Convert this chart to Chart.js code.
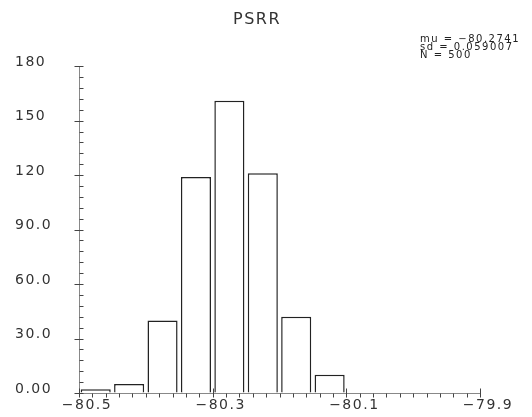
<!DOCTYPE html>
<html><head><meta charset="utf-8">
<script src="https://cdn.jsdelivr.net/npm/chart.js@4.4.0/dist/chart.umd.min.js"></script>
<style>html,body{margin:0;padding:0;background:#fff}#wrap{width:532px;height:417px}</style>
</head><body><div id="wrap"><canvas id="c"></canvas></div>
<script>
const chartTitle = 'PSRR';
const binCenters = [-80.475, -80.425, -80.375, -80.325, -80.275, -80.225, -80.175, -80.125];
const counts = [2, 5, 40, 119, 161, 121, 42, 10];
const xTickValues = [-80.5, -80.3, -80.1, -79.9];
const xTickLabels = ['−80.5', '−80.3', '−80.1', '−79.9'];
const yTickValues = [0, 30, 60, 90, 120, 150, 180];
const yTickLabels = ['0.00', '30.0', '60.0', '90.0', '120', '150', '180'];
const statsLines = ['mu = −80.2741', 'sd = 0.059007', 'N = 500'];
const xMinorStep = 0.02;
const yMinorStep = 6;

const textColor = '#333';
const tickColor = '#444';

const spacingPlugin = {
  id: 'spacing',
  beforeDraw(chart) { chart.ctx.letterSpacing = '1.5px'; }
};

const axisTicksPlugin = {
  id: 'axisTicks',
  afterDraw(chart) {
    const ctx = chart.ctx;
    const xs = chart.scales.x, ys = chart.scales.y;
    const ax = Math.round(chart.chartArea.left) + 0.5;
    const ay = Math.round(chart.chartArea.bottom) + 0.5;
    ctx.save();
    ctx.strokeStyle = tickColor;
    ctx.lineWidth = 1;
    ctx.beginPath();
    for (let v = ys.min; v <= ys.max + 1e-9; v += yMinorStep) {
      const py = Math.round(ys.getPixelForValue(v)) + 0.5;
      const major = yTickValues.some(t => Math.abs(t - v) < 1e-6);
      ctx.moveTo(major ? ax - 5 : ax, py);
      ctx.lineTo(ax + 4, py);
    }
    const n = Math.round((xs.max - xs.min) / xMinorStep);
    for (let k = 0; k <= n; k++) {
      const v = xs.min + k * xMinorStep;
      const px = Math.round(xs.getPixelForValue(v)) + 0.5;
      const major = xTickValues.some(t => Math.abs(t - v) < 1e-6);
      ctx.moveTo(px, major ? ay - 5 : ay);
      ctx.lineTo(px, ay + 4);
    }
    ctx.stroke();
    ctx.letterSpacing = '1.5px';
    ctx.fillStyle = '#222';
    ctx.font = '10px "DejaVu Sans"';
    ctx.textAlign = 'left';
    ctx.textBaseline = 'middle';
    statsLines.forEach((s, i) => ctx.fillText(s, 420, 39 + i * 8));
    ctx.restore();
  }
};

new Chart(document.getElementById('c'), {
  type: 'bar',
  data: {
    datasets: [{
      data: binCenters.map((x, i) => ({ x: x, y: counts[i] })),
      backgroundColor: '#ffffff',
      borderColor: '#222',
      borderWidth: 1.5,
      borderSkipped: 'start',
      barPercentage: 0.9,
      categoryPercentage: 1
    }]
  },
  options: {
    responsive: true,
    maintainAspectRatio: false,
    animation: false,
    layout: { padding: { left: 15, right: 33, top: 0, bottom: 0 } },
    plugins: {
      legend: { display: false },
      tooltip: { enabled: false },
      title: {
        display: true,
        text: chartTitle,
        color: textColor,
        font: { family: 'DejaVu Sans', size: 16, weight: 'normal', lineHeight: 1.2 },
        padding: { top: 10, bottom: 37 }
      }
    },
    scales: {
      x: {
        type: 'linear',
        min: -80.5,
        max: -79.9,
        offset: false,
        afterBuildTicks(s) { s.ticks = xTickValues.map(v => ({ value: v })); },
        afterFit(s) { s.height = 24; s.paddingLeft = 0; s.paddingRight = 52; },
        ticks: {
          callback: (v, i) => xTickLabels[i],
          autoSkip: false, maxRotation: 0, minRotation: 0,
          labelOffset: 8, padding: 4,
          color: textColor,
          font: { family: 'DejaVu Sans', size: 14 }
        },
        grid: { drawOnChartArea: false, drawTicks: false },
        border: { color: '#888', width: 1 }
      },
      y: {
        min: 0,
        max: 180,
        afterBuildTicks(s) { s.ticks = yTickValues.map(v => ({ value: v })); },
        afterFit(s) { s.width = 64; },
        ticks: {
          callback: (v, i) => yTickLabels[i],
          crossAlign: 'far',
          labelOffset: -4,
          color: textColor,
          font: { family: 'DejaVu Sans', size: 14 }
        },
        grid: { drawOnChartArea: false, drawTicks: false },
        border: { color: '#888', width: 1 }
      }
    }
  },
  plugins: [spacingPlugin, axisTicksPlugin]
});
</script>
</body></html>
